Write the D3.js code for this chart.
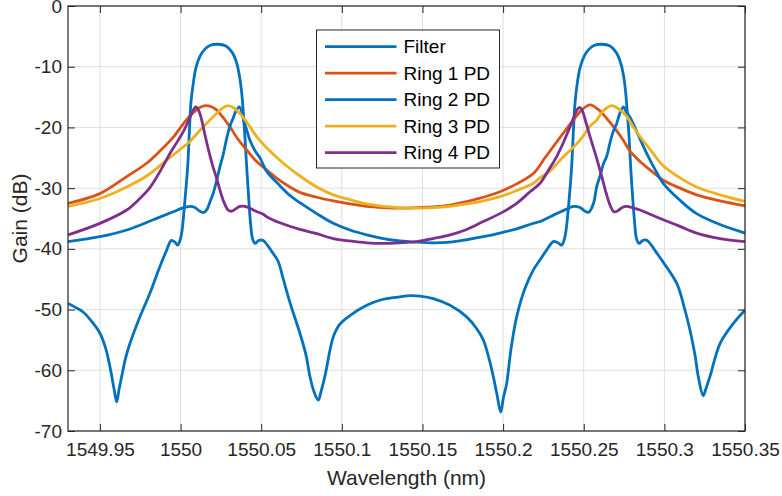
<!DOCTYPE html>
<html>
<head>
<meta charset="utf-8">
<script src="https://cdn.jsdelivr.net/npm/d3@7"></script>
<style>
  body { margin: 0; background: #fff; }
  svg { display: block; font-family: "Liberation Sans", Arial, sans-serif; }
</style>
</head>
<body>
<svg id="chart" width="782" height="496"></svg>
<script>
const width = 782;
const height = 496;

const margin = {top: 6, right: 37, bottom: 65, left: 68};

// tick values and labels
const wlTicks = [1549.95, 1550, 1550.05, 1550.1, 1550.15, 1550.2, 1550.25, 1550.3, 1550.35];
const wlTickLabels = ["1549.95", "1550", "1550.05", "1550.1", "1550.15", "1550.2", "1550.25", "1550.3", "1550.35"];
const gainTicks = [-70, -60, -50, -40, -30, -20, -10, 0];
const gainTickLabels = ["-70", "-60", "-50", "-40", "-30", "-20", "-10", "0"];

const seriesNames = ["Filter", "Ring 1 PD", "Ring 2 PD", "Ring 3 PD", "Ring 4 PD"];
const seriesColors = ["#0072BD", "#D95319", "#0072BD", "#EDB120", "#7E2F8E"];

// [wavelength nm, gain dB]
const filterData = [
  [1549.9302, -49.0], [1549.9345, -49.6], [1549.9396, -50.4], [1549.9450, -52.0], [1549.9500, -53.9],
  [1549.9537, -56.5], [1549.9562, -59.4], [1549.9587, -63.0], [1549.9604, -65.2], [1549.9618, -63.2],
  [1549.9635, -61.0], [1549.9661, -57.8], [1549.9686, -55.6], [1549.9748, -51.2], [1549.9810, -47.3],
  [1549.9872, -42.9], [1549.9914, -40.2], [1549.9943, -38.6], [1549.9965, -38.9], [1549.9981, -39.4],
  [1549.9993, -38.9], [1550.0007, -37.4], [1550.0027, -32.0], [1550.0044, -26.5], [1550.0055, -20.5],
  [1550.0064, -16.0], [1550.0079, -12.7], [1550.0095, -10.2], [1550.0120, -8.3], [1550.0151, -7.1],
  [1550.0182, -6.5], [1550.0232, -6.3], [1550.0281, -6.6], [1550.0319, -7.6], [1550.0347, -9.3],
  [1550.0365, -11.5], [1550.0378, -14.0], [1550.0389, -17.5], [1550.0399, -21.5], [1550.0410, -26.5],
  [1550.0421, -31.0], [1550.0433, -35.5], [1550.0446, -38.3], [1550.0461, -39.1], [1550.0486, -38.6],
  [1550.0511, -38.6], [1550.0536, -39.3], [1550.0567, -40.5], [1550.0604, -42.0], [1550.0637, -45.0],
  [1550.0678, -48.8], [1550.0740, -53.9], [1550.0778, -57.5], [1550.0802, -61.0], [1550.0827, -63.5],
  [1550.0854, -64.9], [1550.0871, -63.5], [1550.0895, -61.0], [1550.0947, -54.5], [1550.0988, -52.4],
  [1550.1050, -51.0], [1550.1154, -49.3], [1550.1257, -48.3], [1550.1360, -47.9], [1550.1422, -47.7],
  [1550.1485, -47.8], [1550.1567, -48.2], [1550.1671, -49.3], [1550.1774, -51.2], [1550.1832, -53.0],
  [1550.1877, -55.0], [1550.1912, -58.0], [1550.1939, -61.0], [1550.1962, -64.0], [1550.1985, -66.9],
  [1550.2002, -64.5], [1550.2022, -62.2], [1550.2049, -56.5], [1550.2084, -51.2], [1550.2136, -46.5],
  [1550.2187, -43.5], [1550.2229, -41.8], [1550.2270, -40.2], [1550.2311, -38.8], [1550.2340, -39.0],
  [1550.2362, -39.4], [1550.2374, -38.9], [1550.2388, -37.4], [1550.2409, -32.0], [1550.2425, -26.5],
  [1550.2436, -20.5], [1550.2446, -16.0], [1550.2460, -12.7], [1550.2477, -10.2], [1550.2502, -8.3],
  [1550.2533, -7.1], [1550.2564, -6.5], [1550.2613, -6.3], [1550.2663, -6.6], [1550.2700, -7.6],
  [1550.2728, -9.3], [1550.2747, -11.5], [1550.2759, -14.0], [1550.2770, -17.5], [1550.2781, -21.5],
  [1550.2791, -26.5], [1550.2802, -31.0], [1550.2815, -35.5], [1550.2827, -38.3], [1550.2843, -39.1],
  [1550.2867, -38.6], [1550.2892, -38.6], [1550.2917, -39.3], [1550.2948, -40.5], [1550.2993, -42.2],
  [1550.3077, -45.7], [1550.3122, -49.5], [1550.3159, -53.4], [1550.3190, -57.5], [1550.3210, -61.0],
  [1550.3241, -64.2], [1550.3258, -63.0], [1550.3283, -61.0], [1550.3345, -55.6], [1550.3427, -52.3],
  [1550.3500, -50.1]
];

const ring1Data = [
  [1549.9302, -32.5], [1549.9500, -30.9], [1549.9666, -28.1], [1549.9790, -25.9], [1549.9872, -23.9],
  [1549.9955, -21.6], [1550.0017, -19.4], [1550.0058, -18.1], [1550.0099, -17.1], [1550.0129, -16.6],
  [1550.0161, -16.4], [1550.0191, -16.6], [1550.0223, -17.1], [1550.0262, -18.3], [1550.0306, -19.9],
  [1550.0355, -21.9], [1550.0410, -23.7], [1550.0467, -25.5], [1550.0533, -27.0], [1550.0604, -28.5],
  [1550.0678, -29.8], [1550.0740, -30.7], [1550.0844, -31.5], [1550.0947, -32.1], [1550.1050, -32.6],
  [1550.1154, -33.0], [1550.1257, -33.2], [1550.1360, -33.3], [1550.1464, -33.2], [1550.1567, -33.1],
  [1550.1671, -32.8], [1550.1774, -32.2], [1550.1877, -31.5], [1550.1980, -30.6], [1550.2084, -29.3],
  [1550.2187, -27.6], [1550.2260, -25.0], [1550.2332, -22.4], [1550.2435, -18.8], [1550.2489, -17.1],
  [1550.2539, -16.3], [1550.2588, -17.0], [1550.2642, -18.5], [1550.2694, -20.2], [1550.2745, -22.1],
  [1550.2787, -23.9], [1550.2849, -25.6], [1550.2911, -27.0], [1550.2993, -28.7], [1550.3097, -30.0],
  [1550.3200, -31.1], [1550.3345, -32.1], [1550.3500, -32.9]
];

const ring2Data = [
  [1549.9302, -38.8], [1549.9500, -38.0], [1549.9666, -36.9], [1549.9831, -35.2], [1549.9955, -33.9],
  [1550.0009, -33.3], [1550.0058, -33.0], [1550.0089, -33.2], [1550.0120, -33.8], [1550.0145, -34.0],
  [1550.0164, -33.5], [1550.0182, -32.3], [1550.0203, -30.8], [1550.0223, -28.8], [1550.0244, -26.5],
  [1550.0265, -24.4], [1550.0286, -21.8], [1550.0306, -19.8], [1550.0327, -18.4], [1550.0343, -17.3],
  [1550.0364, -16.6], [1550.0378, -17.3], [1550.0393, -19.0], [1550.0410, -20.4], [1550.0430, -22.1],
  [1550.0461, -23.8], [1550.0492, -25.0], [1550.0533, -27.2], [1550.0616, -29.6], [1550.0678, -31.2],
  [1550.0740, -32.4], [1550.0844, -34.2], [1550.0947, -35.8], [1550.1050, -36.9], [1550.1154, -37.7],
  [1550.1257, -38.3], [1550.1360, -38.7], [1550.1464, -38.9], [1550.1567, -39.0], [1550.1671, -38.9],
  [1550.1774, -38.5], [1550.1877, -38.0], [1550.1980, -37.4], [1550.2084, -36.7], [1550.2187, -35.8],
  [1550.2229, -35.5], [1550.2332, -34.2], [1550.2390, -33.5], [1550.2436, -33.0], [1550.2477, -33.2],
  [1550.2508, -33.8], [1550.2529, -34.0], [1550.2545, -33.5], [1550.2564, -32.2], [1550.2580, -29.8],
  [1550.2601, -28.0], [1550.2622, -26.0], [1550.2642, -24.8], [1550.2663, -22.5], [1550.2684, -20.6],
  [1550.2705, -19.3], [1550.2725, -17.6], [1550.2746, -16.6], [1550.2763, -17.4], [1550.2787, -18.3],
  [1550.2837, -21.2], [1550.2891, -24.3], [1550.2942, -26.9], [1550.2993, -29.2], [1550.3097, -32.0],
  [1550.3200, -34.2], [1550.3345, -36.0], [1550.3500, -37.4]
];

const ring3Data = [
  [1549.9302, -33.0], [1549.9500, -31.7], [1549.9666, -29.8], [1549.9790, -28.0], [1549.9914, -25.4],
  [1550.0017, -23.2], [1550.0054, -22.4], [1550.0141, -19.9], [1550.0223, -17.7], [1550.0262, -16.8],
  [1550.0295, -16.4], [1550.0331, -16.8], [1550.0368, -17.7], [1550.0418, -19.4], [1550.0472, -21.5],
  [1550.0554, -23.9], [1550.0637, -25.9], [1550.0740, -28.0], [1550.0844, -29.8], [1550.0947, -31.1],
  [1550.1050, -31.9], [1550.1154, -32.6], [1550.1257, -33.0], [1550.1360, -33.2], [1550.1464, -33.3],
  [1550.1567, -33.2], [1550.1671, -33.0], [1550.1774, -32.6], [1550.1877, -32.1], [1550.1980, -31.4],
  [1550.2084, -30.4], [1550.2187, -29.2], [1550.2229, -28.3], [1550.2291, -27.2], [1550.2353, -25.4],
  [1550.2415, -23.8], [1550.2477, -22.1], [1550.2539, -19.8], [1550.2580, -18.8], [1550.2620, -17.3],
  [1550.2674, -16.4], [1550.2719, -17.0], [1550.2767, -18.2], [1550.2806, -19.9], [1550.2849, -21.5],
  [1550.2911, -23.6], [1550.2993, -26.3], [1550.3097, -28.3], [1550.3200, -29.8], [1550.3345, -31.1],
  [1550.3500, -32.2]
];

const ring4Data = [
  [1549.9302, -37.7], [1549.9500, -35.8], [1549.9666, -33.6], [1549.9740, -31.9], [1549.9798, -30.3],
  [1549.9847, -28.4], [1549.9893, -26.3], [1549.9934, -24.3], [1549.9976, -22.5], [1550.0017, -20.7],
  [1550.0054, -18.6], [1550.0077, -17.2], [1550.0095, -16.6], [1550.0114, -17.3], [1550.0133, -19.0],
  [1550.0151, -21.2], [1550.0176, -24.0], [1550.0201, -26.5], [1550.0223, -28.3], [1550.0244, -30.3],
  [1550.0269, -32.3], [1550.0295, -33.6], [1550.0318, -33.8], [1550.0343, -33.4], [1550.0368, -33.0],
  [1550.0399, -33.0], [1550.0430, -33.3], [1550.0467, -33.8], [1550.0513, -34.3], [1550.0533, -34.7],
  [1550.0616, -35.7], [1550.0740, -36.8], [1550.0844, -37.5], [1550.0947, -38.3], [1550.1050, -38.7],
  [1550.1154, -39.0], [1550.1257, -39.1], [1550.1360, -39.0], [1550.1464, -38.8], [1550.1567, -38.3],
  [1550.1671, -37.7], [1550.1774, -36.8], [1550.1877, -35.5], [1550.1980, -34.2], [1550.2084, -32.5],
  [1550.2167, -30.6], [1550.2229, -29.2], [1550.2278, -27.2], [1550.2332, -24.8], [1550.2372, -22.6],
  [1550.2415, -19.9], [1550.2440, -18.2], [1550.2459, -17.1], [1550.2473, -16.7], [1550.2490, -17.2],
  [1550.2515, -19.3], [1550.2539, -21.5], [1550.2577, -24.8], [1550.2612, -28.1], [1550.2639, -30.8],
  [1550.2663, -32.8], [1550.2688, -33.9], [1550.2713, -33.7], [1550.2738, -33.2], [1550.2767, -33.0],
  [1550.2800, -33.2], [1550.2849, -33.6], [1550.2911, -34.3], [1550.2993, -35.2], [1550.3097, -36.3],
  [1550.3200, -37.4], [1550.3345, -38.3], [1550.3500, -38.8]
];

const allSeries = [filterData, ring1Data, ring2Data, ring3Data, ring4Data];

const svg = d3.select("#chart");

const chartWidth = width - margin.left - margin.right;
const chartHeight = height - margin.top - margin.bottom;

svg.append("rect").attr("width", width).attr("height", height).attr("fill", "#fff");

const g = svg.append("g")
    .attr("transform", `translate(${margin.left},${margin.top})`);

const x = d3.scaleLinear()
    .domain([1549.9302, 1550.35])
    .range([0, chartWidth]);

const y = d3.scaleLinear()
    .domain([-70, 0])
    .range([chartHeight, 0]);

const axisColor = "#262626";
const tickLen = 7;

// grid lines
g.append("g")
    .selectAll("line")
    .data(wlTicks)
    .join("line")
    .attr("x1", d => x(d)).attr("x2", d => x(d))
    .attr("y1", 0).attr("y2", chartHeight)
    .attr("stroke", "#dfdfdf").attr("stroke-width", 1);

g.append("g")
    .selectAll("line")
    .data(gainTicks)
    .join("line")
    .attr("x1", 0).attr("x2", chartWidth)
    .attr("y1", d => y(d)).attr("y2", d => y(d))
    .attr("stroke", "#dfdfdf").attr("stroke-width", 1);

// curves
g.append("clipPath").attr("id", "plotclip")
    .append("rect").attr("width", chartWidth).attr("height", chartHeight);

const line = d3.line()
    .x(d => x(d[0]))
    .y(d => y(d[1]))
    .curve(d3.curveCatmullRom.alpha(0.5));

g.append("g")
    .attr("clip-path", "url(#plotclip)")
    .selectAll("path")
    .data(allSeries)
    .join("path")
    .attr("d", line)
    .attr("fill", "none")
    .attr("stroke", (d, i) => seriesColors[i])
    .attr("stroke-width", 2.8)
    .attr("stroke-linejoin", "round");

// axes, ticks pointing inward like MATLAB
function styleAxis(sel) {
    sel.select(".domain").remove();
    sel.selectAll(".tick line").attr("stroke", axisColor);
    sel.selectAll(".tick text")
        .attr("fill", axisColor)
        .style("font-size", "19px")
        .style("font-family", "'Liberation Sans', Arial, sans-serif");
}

const xAxis = d3.axisBottom(x)
    .tickValues(wlTicks)
    .tickFormat((d, i) => wlTickLabels[i])
    .tickSizeInner(-tickLen)
    .tickSizeOuter(0)
    .tickPadding(12);

g.append("g")
    .attr("transform", `translate(0,${chartHeight})`)
    .call(xAxis)
    .call(styleAxis);

g.append("g")
    .call(d3.axisTop(x).tickValues(wlTicks).tickFormat("").tickSizeInner(-tickLen).tickSizeOuter(0))
    .call(styleAxis);

const yAxis = d3.axisLeft(y)
    .tickValues(gainTicks)
    .tickFormat((d, i) => gainTickLabels[i])
    .tickSizeInner(-tickLen)
    .tickSizeOuter(0)
    .tickPadding(6);

g.append("g")
    .call(yAxis)
    .call(styleAxis);

g.append("g")
    .attr("transform", `translate(${chartWidth},0)`)
    .call(d3.axisRight(y).tickValues(gainTicks).tickFormat("").tickSizeInner(-tickLen).tickSizeOuter(0))
    .call(styleAxis);

// box
g.append("rect")
    .attr("width", chartWidth)
    .attr("height", chartHeight)
    .attr("fill", "none")
    .attr("stroke", axisColor)
    .attr("stroke-width", 1.2);

// axis titles
svg.append("text")
    .attr("x", margin.left + chartWidth / 2)
    .attr("y", 485)
    .attr("text-anchor", "middle")
    .attr("fill", axisColor)
    .style("font-size", "21px")
    .text("Wavelength (nm)");

svg.append("text")
    .attr("transform", `translate(27,${margin.top + chartHeight / 2}) rotate(-90)`)
    .attr("text-anchor", "middle")
    .attr("fill", axisColor)
    .style("font-size", "21px")
    .text("Gain (dB)");

// legend
const legend = svg.append("g").attr("transform", "translate(316.5,30)");

legend.append("rect")
    .attr("width", 183)
    .attr("height", 138)
    .attr("fill", "#fff")
    .attr("stroke", axisColor)
    .attr("stroke-width", 1);

const rows = legend.selectAll("g.row")
    .data(seriesNames)
    .join("g")
    .attr("class", "row")
    .attr("transform", (d, i) => `translate(0,${16.7 + i * 26.5})`);

rows.append("line")
    .attr("x1", 8.5).attr("x2", 80)
    .attr("stroke", (d, i) => seriesColors[i])
    .attr("stroke-width", 2.8);

rows.append("text")
    .attr("x", 87)
    .attr("dy", "0.35em")
    .attr("fill", "#000")
    .style("font-size", "19px")
    .text(d => d);
</script>
</body>
</html>
